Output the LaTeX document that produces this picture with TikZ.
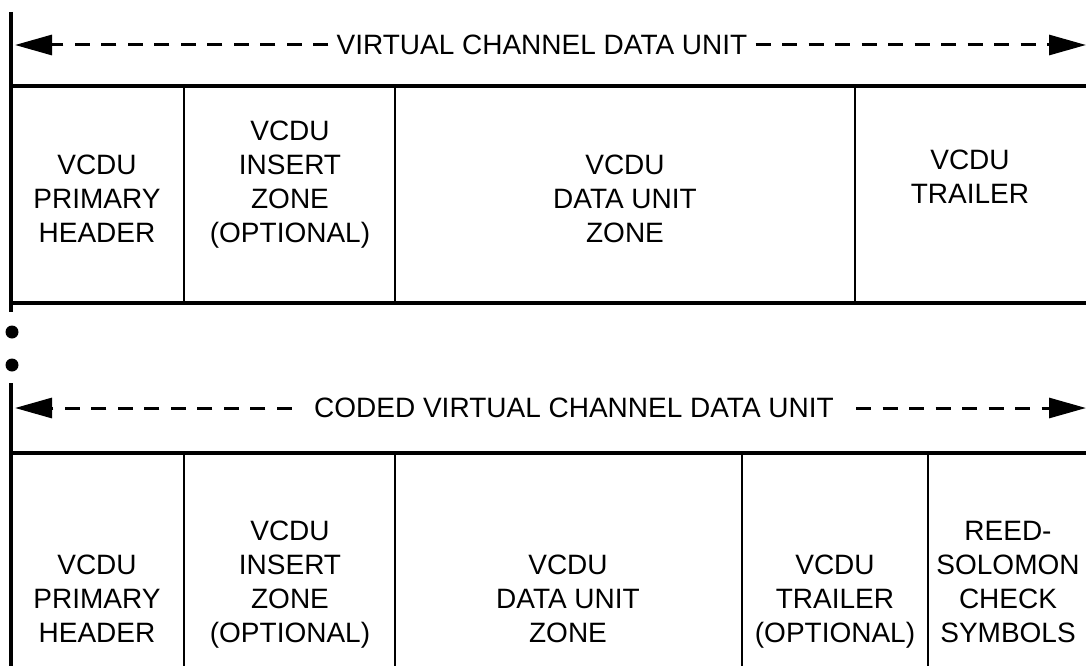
\documentclass[tikz,border=0pt]{standalone}
\usepackage{fontspec}
\setmainfont{Liberation Sans}
\usetikzlibrary{arrows.meta}
\begin{document}
\begin{tikzpicture}[x=1pt,y=-1pt,
  frame/.style={line width=3.2pt},
  divider/.style={line width=2.8pt},
  dimline/.style={line width=3pt, dash pattern=on 15pt off 11.5pt, -{Triangle[length=37pt,width=20pt]}},
  lbl/.style={font=\fontsize{28}{34}\selectfont, align=center, inner sep=0pt, anchor=north},
  titletext/.style={font=\fontsize{28}{34}\selectfont, inner ysep=0pt},
  dotmark/.style={circle, fill=black, inner sep=0pt, minimum size=13pt}]
\useasboundingbox (0,0) rectangle (1086,666);

% ---------- upper frame: VCDU ----------
\draw[frame] (11,12) -- (11,312);
\draw[frame] (11,86) -- (1086,86);
\draw[frame] (11,303) -- (1086,303);
\draw[divider] (184,86) -- (184,301);
\draw[divider] (395,86) -- (395,301);
\draw[divider] (855,86) -- (855,301);

\node[titletext, inner xsep=8pt] (ttitle) at (542,45) {VIRTUAL CHANNEL DATA UNIT};
\coordinate (ttipL) at (15,45);
\coordinate (ttipR) at (1086,45);
\draw[dimline] (ttitle.west) -- (ttipL);
\draw[dimline] (ttitle.east) -- (ttipR);

\node[lbl] (t1) at (97,155) {VCDU\\PRIMARY\\HEADER};
\node[lbl] (t2) at (290,121) {VCDU\\INSERT\\ZONE\\(OPTIONAL)};
\node[lbl] (t3) at (625,155) {VCDU\\DATA UNIT\\ZONE};
\node[lbl] (t4) at (970,150) {VCDU\\TRAILER};

% ---------- dots ----------
\node[dotmark] (d1) at (12,332) {};
\node[dotmark] (d2) at (12,365) {};

% ---------- lower frame: CVCDU ----------
\draw[frame] (11,383) -- (11,666);
\draw[frame] (11,453) -- (1086,453);
\draw[divider] (184,453) -- (184,666);
\draw[divider] (395,453) -- (395,666);
\draw[divider] (742,453) -- (742,666);
\draw[divider] (928,453) -- (928,666);

\node[titletext, inner xsep=22pt] (btitle) at (574,408) {CODED VIRTUAL CHANNEL DATA UNIT};
\coordinate (btipL) at (15,408);
\coordinate (btipR) at (1086,408);
\draw[dimline] (btitle.west) -- (btipL);
\draw[dimline] (btitle.east) -- (btipR);

\node[lbl] (b1) at (97,555) {VCDU\\PRIMARY\\HEADER};
\node[lbl] (b2) at (290,521) {VCDU\\INSERT\\ZONE\\(OPTIONAL)};
\node[lbl] (b3) at (568,555) {VCDU\\DATA UNIT\\ZONE};
\node[lbl] (b4) at (835,555) {VCDU\\TRAILER\\(OPTIONAL)};
\node[lbl] (b5) at (1008,521) {REED-\\SOLOMON\\CHECK\\SYMBOLS};
\end{tikzpicture}
\end{document}
